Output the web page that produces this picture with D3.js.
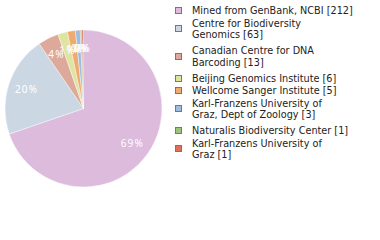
<!DOCTYPE html>
<html>
<head>
<meta charset="utf-8">
<script src="https://cdn.jsdelivr.net/npm/d3@7"></script>
<style>
  body { margin: 0; background: #fff; }
</style>
</head>
<body>
<div id="chart"></div>
<script>
const labels = [
  "Mined from GenBank, NCBI",
  "Centre for Biodiversity Genomics",
  "Canadian Centre for DNA Barcoding",
  "Beijing Genomics Institute",
  "Wellcome Sanger Institute",
  "Karl-Franzens University of Graz, Dept of Zoology",
  "Naturalis Biodiversity Center",
  "Karl-Franzens University of Graz"
];
const counts = [212, 63, 13, 6, 5, 3, 1, 1];
const colors = ["#dcbbdd", "#cbd8e4", "#dda99b", "#dde5a0", "#f0aa70", "#9dbce0", "#9dc47a", "#de7057"];

const width = 380, height = 240;
const cx = 83.5, cy = 108.5, radius = 78.5;

const svg = d3.select("#chart").append("svg")
  .attr("width", width)
  .attr("height", height);

const total = d3.sum(counts);
const data = counts.map((v, i) => ({ label: labels[i], value: v, color: colors[i] }));

const pie = d3.pie().value(d => d.value).sort(null);
const arc = d3.arc().innerRadius(0).outerRadius(radius);
const labelArc = d3.arc().innerRadius(60).outerRadius(60);

const g = svg.append("g").attr("transform", `translate(${cx},${cy})`);
const arcs = pie(data);

g.selectAll("path")
  .data(arcs)
  .join("path")
  .attr("d", arc)
  .attr("fill", d => d.data.color)
  .attr("stroke", "#fff")
  .attr("stroke-width", 0.4);

g.selectAll("text")
  .data(arcs)
  .join("text")
  .attr("transform", d => `translate(${labelArc.centroid(d)})`)
  .attr("text-anchor", "middle")
  .attr("dy", "0.35em")
  .attr("fill", "#fff")
  .attr("font-family", "'Noto Sans', sans-serif")
  .attr("font-size", "10px")
  .attr("letter-spacing", "1.2px")
  .text(d => Math.floor(d.data.value / total * 100) + "%");

// legend: wrap the label at ~30 characters, count goes on the last line
const legend = svg.append("g");
const maxChars = 30, lineH = 11.5;
let baseline = 14;

function wrap(s) {
  const lines = [];
  let cur = "";
  s.split(" ").forEach(w => {
    const t = cur ? cur + " " + w : w;
    if (t.length > maxChars && cur) { lines.push(cur); cur = w; }
    else cur = t;
  });
  lines.push(cur);
  return lines;
}

data.forEach(d => {
  const lines = wrap(d.label);
  lines[lines.length - 1] += " [" + d.value + "]";

  const item = legend.append("g");
  const text = item.append("text")
    .attr("font-family", "'DejaVu Sans', sans-serif")
    .attr("font-size", "9.7px")
    .attr("fill", "#222");

  lines.forEach((ln, j) => {
    text.append("tspan")
      .attr("x", 192)
      .attr("y", baseline + j * lineH)
      .text(ln);
  });

  const mid = baseline - 3.5 + (lines.length - 1) * lineH / 2;
  item.append("rect")
    .attr("x", 175.5)
    .attr("y", Math.round(mid - 3.5) + 0.5)
    .attr("width", 6)
    .attr("height", 6)
    .attr("fill", d.color)
    .attr("stroke", "#777")
    .attr("stroke-width", 1);

  const last = baseline + (lines.length - 1) * lineH;
  baseline = last + lineH + (lines.length > 1 ? 4.5 : 1);
});
</script>
</body>
</html>
